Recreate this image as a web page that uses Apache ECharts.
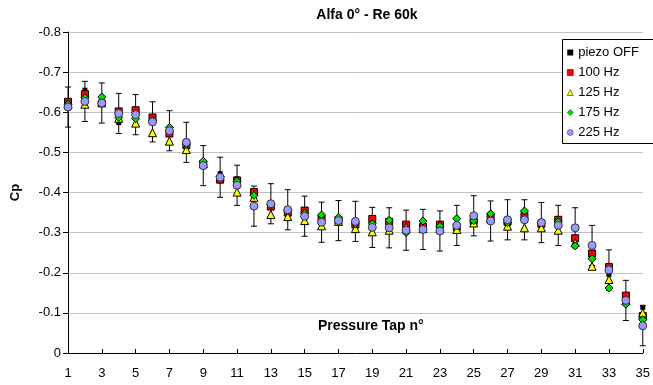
<!DOCTYPE html>
<html>
<head>
<meta charset="utf-8">
<script src="https://cdn.jsdelivr.net/npm/echarts@6/dist/echarts.min.js"></script>
<style>
  html, body { margin: 0; padding: 0; background: #fff; }
  #main { width: 653px; height: 385px; }
</style>
</head>
<body>
<div id="main"></div>
<script>
// pressure taps 1..35
var taps = ["1","2","3","4","5","6","7","8","9","10","11","12","13","14","15","16","17","18",
  "19","20","21","22","23","24","25","26","27","28","29","30","31","32","33","34","35"];

var cpOff = [-0.625, -0.655, -0.624, -0.574, -0.600, -0.585, -0.550, -0.518, -0.470, -0.447,
  -0.434, -0.400, -0.368, -0.350, -0.352, -0.335, -0.332, -0.320, -0.330, -0.327,
  -0.318, -0.312, -0.318, -0.316, -0.330, -0.338, -0.327, -0.340, -0.322, -0.330,
  -0.285, -0.250, -0.196, -0.143, -0.114];
var cp100 = [-0.626, -0.645, -0.622, -0.602, -0.605, -0.587, -0.547, -0.518, -0.470, -0.432,
  -0.430, -0.401, -0.365, -0.350, -0.355, -0.333, -0.330, -0.320, -0.334, -0.327,
  -0.320, -0.314, -0.320, -0.314, -0.329, -0.339, -0.327, -0.341, -0.322, -0.332,
  -0.286, -0.248, -0.214, -0.143, -0.092];
var cp125 = [-0.620, -0.620, -0.625, -0.585, -0.573, -0.549, -0.528, -0.507, -0.472, -0.440,
  -0.401, -0.388, -0.345, -0.340, -0.330, -0.317, -0.328, -0.310, -0.302, -0.306,
  -0.314, -0.310, -0.310, -0.308, -0.324, -0.335, -0.316, -0.312, -0.312, -0.306,
  -0.275, -0.216, -0.183, -0.130, -0.100];
var cp175 = [-0.620, -0.636, -0.638, -0.587, -0.584, -0.580, -0.562, -0.520, -0.478, -0.440,
  -0.428, -0.393, -0.370, -0.355, -0.348, -0.344, -0.338, -0.322, -0.322, -0.331,
  -0.300, -0.329, -0.316, -0.335, -0.330, -0.347, -0.325, -0.354, -0.325, -0.327,
  -0.267, -0.235, -0.162, -0.122, -0.083];
var cp225 = [-0.613, -0.627, -0.623, -0.597, -0.594, -0.576, -0.554, -0.525, -0.467, -0.438,
  -0.418, -0.366, -0.372, -0.357, -0.341, -0.326, -0.330, -0.328, -0.313, -0.312,
  -0.306, -0.308, -0.304, -0.318, -0.342, -0.329, -0.332, -0.332, -0.325, -0.318,
  -0.312, -0.268, -0.207, -0.131, -0.068];
// error bar half width on the 225 Hz series
var cpErr = [0.05, 0.05, 0.05, 0.05, 0.05, 0.05, 0.05, 0.05, 0.05, 0.05,
  0.05, 0.05, 0.05, 0.05, 0.05, 0.05, 0.05, 0.05, 0.05, 0.05,
  0.05, 0.05, 0.05, 0.05, 0.05, 0.05, 0.05, 0.05, 0.05, 0.05,
  0.05, 0.05, 0.05, 0.05, 0.05];

var errData = taps.map(function (t, i) {
  return [i, cp225[i] - cpErr[i], cp225[i] + cpErr[i]];
});

var font = "Liberation Sans, Arial, sans-serif";

var myChart = echarts.init(document.getElementById("main"));
var option = {
  animation: false,
  textStyle: { fontFamily: font },
  title: {
    text: "Alfa 0° - Re 60k",
    left: 362,
    textAlign: "center",
    top: 3,
    textStyle: { fontFamily: font, fontSize: 14, fontWeight: "bold", color: "#000" }
  },
  legend: {
    orient: "vertical",
    left: 562,
    top: 39,
    padding: [7, 10, 4, 5],
    itemGap: 7,
    itemWidth: 6,
    itemHeight: 6,
    itemStyle: { borderWidth: 0.5 },
    textStyle: { fontFamily: font, fontSize: 13, color: "#000" },
    data: [
      { name: "piezo OFF", icon: "rect" },
      { name: "100 Hz", icon: "rect" },
      { name: "125 Hz", icon: "triangle" },
      { name: "175 Hz", icon: "diamond" },
      { name: "225 Hz", icon: "circle" }
    ]
  },
  graphic: [
    {
      // legend frame, runs past the right edge like the original
      type: "rect",
      left: 562,
      top: 39,
      z: 3,
      shape: { x: 0.5, y: 0.5, width: 120, height: 104 },
      style: { fill: "#fff", stroke: "#000", lineWidth: 1 }
    },
    {
      type: "text",
      left: 318,
      top: 319,
      style: { text: "Pressure Tap n°", font: "bold 14px " + font, fill: "#000" }
    }
  ],
  grid: { left: 68, right: 7, top: 32, bottom: 32 },
  xAxis: {
    type: "category",
    data: taps,
    boundaryGap: false,
    axisLine: { lineStyle: { color: "#000", width: 1 } },
    axisTick: { interval: 1, inside: true, length: 4, lineStyle: { color: "#000" } },
    axisLabel: { interval: 1, margin: 14, fontSize: 13, color: "#000", fontFamily: font },
    splitLine: { show: false }
  },
  yAxis: {
    type: "value",
    inverse: true,
    min: -0.8,
    max: 0,
    interval: 0.1,
    name: "Cp",
    nameLocation: "middle",
    nameRotate: 90,
    nameGap: 46,
    nameTextStyle: { fontFamily: font, fontSize: 13, fontWeight: "bold", color: "#000" },
    axisLine: { show: true, lineStyle: { color: "#000", width: 1 } },
    axisTick: { show: true, length: 5, lineStyle: { color: "#000" } },
    axisLabel: {
      margin: 7, fontSize: 13, color: "#000", fontFamily: font,
      formatter: function (v) { return v === 0 ? "0" : v.toFixed(1); }
    },
    splitLine: { show: true, lineStyle: { color: "#c0c0c0", width: 1 } }
  },
  series: [
    {
      name: "errors",
      type: "custom",
      z: 1,
      encode: { x: 0, y: [1, 2] },
      renderItem: function (params, api) {
        var lo = api.coord([api.value(0), api.value(1)]);
        var hi = api.coord([api.value(0), api.value(2)]);
        var w = 3;
        var st = { stroke: "#000", lineWidth: 1 };
        return {
          type: "group",
          children: [
            { type: "line", shape: { x1: lo[0], y1: lo[1], x2: hi[0], y2: hi[1] }, style: st },
            { type: "line", shape: { x1: lo[0] - w, y1: lo[1], x2: lo[0] + w, y2: lo[1] }, style: st },
            { type: "line", shape: { x1: hi[0] - w, y1: hi[1], x2: hi[0] + w, y2: hi[1] }, style: st }
          ]
        };
      },
      data: errData
    },
    {
      name: "piezo OFF",
      type: "scatter",
      z: 2,
      symbol: "rect",
      symbolSize: 5,
      itemStyle: { color: "#000", opacity: 1 },
      data: cpOff
    },
    {
      name: "100 Hz",
      type: "scatter",
      z: 3,
      symbol: "rect",
      symbolSize: 7,
      itemStyle: { color: "#ff0000", borderColor: "#000", borderWidth: 1, opacity: 1 },
      data: cp100
    },
    {
      name: "125 Hz",
      type: "scatter",
      z: 4,
      symbol: "triangle",
      symbolSize: 8,
      itemStyle: { color: "#ffff00", borderColor: "#000", borderWidth: 1, opacity: 1 },
      data: cp125
    },
    {
      name: "175 Hz",
      type: "scatter",
      z: 5,
      symbol: "diamond",
      symbolSize: 8,
      itemStyle: { color: "#00e000", borderColor: "#000", borderWidth: 1, opacity: 1 },
      data: cp175
    },
    {
      name: "225 Hz",
      type: "scatter",
      z: 6,
      symbol: "circle",
      symbolSize: 8,
      itemStyle: { color: "#9999ff", borderColor: "#333", borderWidth: 1, opacity: 1 },
      data: cp225
    }
  ]
};
myChart.setOption(option);
</script>
</body>
</html>
